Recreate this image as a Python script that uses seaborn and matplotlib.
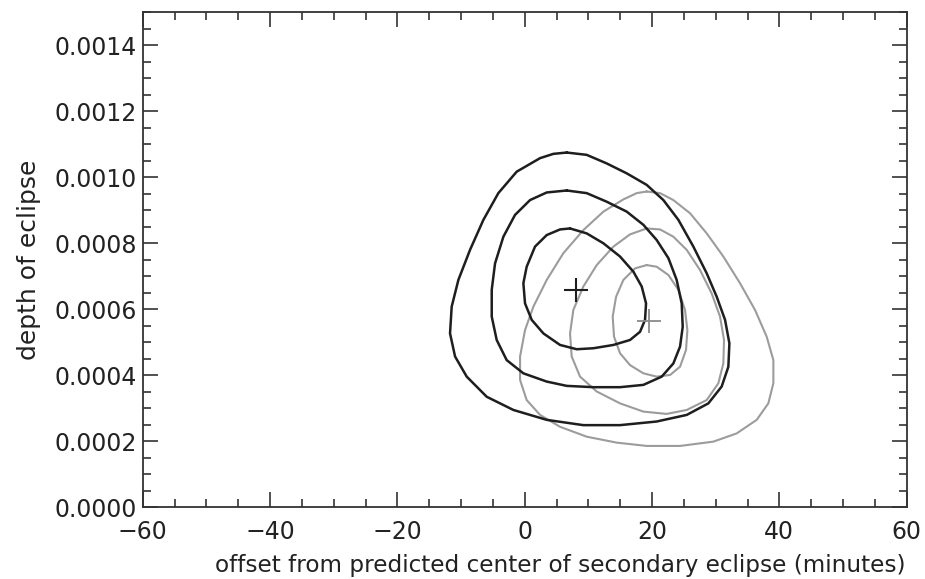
import numpy as np
import pandas as pd
import matplotlib
matplotlib.use("Agg")
import matplotlib.pyplot as plt
from matplotlib.ticker import MultipleLocator, FormatStrFormatter
import seaborn as sns

# ---- data ----
black_outer_x = [6.60, 9.74, 12.88, 16.02, 19.16, 21.78, 24.14, 26.49, 28.59, 30.16, 31.47, 32.15, 31.99,
                 30.94, 28.85, 25.45, 20.73, 14.97, 9.21, 3.46, -1.78, -5.97, -9.11, -10.94, -11.73,
                 -11.47, -10.42, -8.59, -6.49, -4.14, -1.26, 2.41, 4.50]
black_outer_y = [0.001075, 0.001068, 0.001042, 0.001012, 0.000977, 0.000931, 0.000871, 0.000790, 0.000709,
                 0.000638, 0.000568, 0.000497, 0.000426, 0.000366, 0.000315, 0.000280, 0.000260, 0.000249,
                 0.000249, 0.000265, 0.000295, 0.000335, 0.000396, 0.000457, 0.000527, 0.000608, 0.000689,
                 0.000780, 0.000871, 0.000952, 0.001017, 0.001058, 0.001071]

black_mid_x = [6.60, 9.74, 12.88, 16.02, 18.64, 20.73, 22.57, 23.87, 24.66, 24.82, 24.40, 23.35, 21.52,
               18.64, 14.97, 10.79, 6.60, 3.46, -0.21, -2.83, -4.40, -5.18, -5.18, -4.66, -3.35, -1.52,
               0.84, 3.46]
black_mid_y = [0.000960, 0.000952, 0.000926, 0.000896, 0.000856, 0.000810, 0.000755, 0.000689, 0.000618,
               0.000547, 0.000487, 0.000436, 0.000396, 0.000371, 0.000364, 0.000364, 0.000368, 0.000381,
               0.000406, 0.000446, 0.000507, 0.000578, 0.000659, 0.000739, 0.000820, 0.000886, 0.000931,
               0.000954]

black_inner_x = [7.12, 9.74, 12.36, 14.97, 17.07, 18.38, 19.06, 18.90, 18.12, 16.54, 13.93, 10.79, 8.17,
                 5.55, 2.93, 1.10, 0.05, -0.21, 0.31, 1.62, 3.46, 5.55]
black_inner_y = [0.000845, 0.000830, 0.000800, 0.000760, 0.000714, 0.000669, 0.000618, 0.000568, 0.000532,
                 0.000507, 0.000492, 0.000482, 0.000479, 0.000492, 0.000527, 0.000568, 0.000618, 0.000679,
                 0.000729, 0.000790, 0.000825, 0.000842]

gray_outer_x = [19.16, 21.26, 23.35, 25.97, 28.59, 31.20, 33.82, 36.18, 38.01, 39.06, 39.06, 38.27, 36.44,
                33.30, 29.63, 24.40, 19.16, 14.45, 9.74, 5.55, 2.41, 0.31, -0.73, -0.73, 0.05, 1.36,
                3.46, 6.07, 9.21, 12.36, 15.50, 17.59]
gray_outer_y = [0.000957, 0.000952, 0.000931, 0.000891, 0.000830, 0.000760, 0.000679, 0.000598, 0.000517,
                0.000446, 0.000376, 0.000315, 0.000265, 0.000224, 0.000199, 0.000186, 0.000186, 0.000196,
                0.000214, 0.000244, 0.000280, 0.000325, 0.000386, 0.000457, 0.000537, 0.000608, 0.000689,
                0.000770, 0.000840, 0.000896, 0.000933, 0.000952]

gray_mid_x = [19.16, 21.26, 23.35, 25.45, 27.54, 29.37, 30.68, 31.31, 31.20, 30.42, 28.59, 25.45, 22.30,
              18.64, 14.97, 11.31, 8.69, 7.38, 7.12, 7.64, 9.21, 11.31, 13.93, 16.54]
gray_mid_y = [0.000845, 0.000842, 0.000820, 0.000780, 0.000719, 0.000648, 0.000578, 0.000507, 0.000436,
              0.000376, 0.000325, 0.000295, 0.000283, 0.000290, 0.000315, 0.000351, 0.000396, 0.000457,
              0.000527, 0.000598, 0.000669, 0.000734, 0.000790, 0.000827]

gray_inner_x = [19.16, 20.73, 22.57, 24.14, 25.18, 25.55, 25.34, 24.40, 22.83, 20.73, 18.64, 16.54, 14.97,
                14.03, 13.82, 14.35, 15.50, 17.33]
gray_inner_y = [0.000734, 0.000729, 0.000704, 0.000659, 0.000598, 0.000537, 0.000477, 0.000426, 0.000401,
                0.000396, 0.000406, 0.000431, 0.000467, 0.000517, 0.000578, 0.000638, 0.000689, 0.000724]

best_black = (8.06, 0.000660)
best_gray = (19.6, 0.000566)

x_ticks = [-60, -40, -20, 0, 20, 40, 60]
y_ticks = [0.0000, 0.0002, 0.0004, 0.0006, 0.0008, 0.0010, 0.0012, 0.0014]
x_label = "offset from predicted center of secondary eclipse (minutes)"
y_label = "depth of eclipse"

# ---- styling ----
sns.set_style("ticks")
plt.rcParams['font.family'] = ['DejaVu Sans']
plt.rcParams['font.size'] = 17

fig = plt.figure(figsize=(9.25, 5.79), dpi=100)
ax = fig.add_axes([0.1543, 0.1238, 0.9802 - 0.1543, 0.9788 - 0.1238])


def closed(xs, ys):
    return pd.DataFrame({"x": list(xs) + [xs[0]], "y": list(ys) + [ys[0]],
                         "i": range(len(xs) + 1)})


contours = [
    (gray_outer_x, gray_outer_y, "#9c9c9c", 1.5),
    (gray_mid_x, gray_mid_y, "#9c9c9c", 1.5),
    (gray_inner_x, gray_inner_y, "#9c9c9c", 1.5),
    (black_outer_x, black_outer_y, "#1e1e1e", 1.8),
    (black_mid_x, black_mid_y, "#1e1e1e", 1.8),
    (black_inner_x, black_inner_y, "#1e1e1e", 1.8),
]
for xs, ys, col, lw in contours:
    df = closed(xs, ys)
    sns.lineplot(data=df, x="x", y="y", sort=False, estimator=None, color=col,
                 linewidth=lw, ax=ax, solid_joinstyle="round", solid_capstyle="round")

ax.plot([best_black[0]], [best_black[1]], marker="+", markersize=17, mew=1.5, color="#1e1e1e", ls="none")
ax.plot([best_gray[0]], [best_gray[1]], marker="+", markersize=17, mew=1.3, color="#8a8a8a", ls="none")

ax.set_xlim(-60, 60)
ax.set_ylim(0, 0.0015)
ax.set_xticks(x_ticks)
ax.set_yticks(y_ticks)
ax.xaxis.set_minor_locator(MultipleLocator(5))
ax.yaxis.set_minor_locator(MultipleLocator(0.00005))
ax.yaxis.set_major_formatter(FormatStrFormatter('%.4f'))
ax.tick_params(which="both", direction="in", top=True, right=True, color="#333333", width=1.2)
ax.tick_params(which="major", length=11, labelsize=17, pad=9, labelcolor="#222222")
ax.tick_params(which="minor", length=5.5)
ax.tick_params(axis="y", which="major", pad=4)
for s in ax.spines.values():
    s.set_visible(True)
    s.set_linewidth(1.3)
    s.set_color("#333333")

ax.set_xlabel(x_label, fontsize=16.7, labelpad=7, color="#222222", x=0.546)
ax.set_ylabel(y_label, fontsize=18, labelpad=10, color="#222222")

fig.savefig("out.png", dpi=100)
